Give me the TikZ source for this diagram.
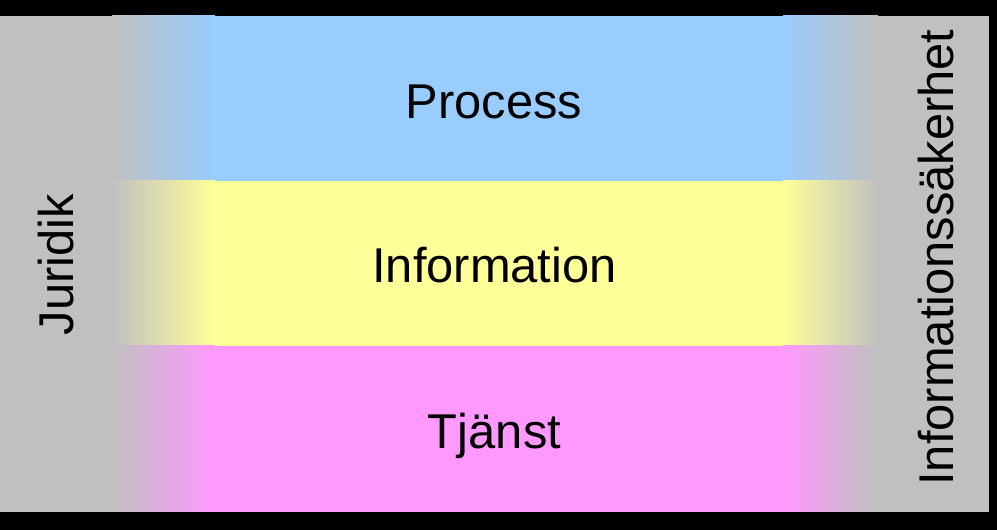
\documentclass[tikz,border=0pt]{standalone}
\usepackage{fontspec}
\setmainfont{Liberation Sans}
\usepackage{tikz}
\usepackage{xcolor}
\usetikzlibrary{positioning}

\definecolor{sidegray}{HTML}{C0C0C0}
\definecolor{procblue}{HTML}{99CCFF}
\definecolor{infoyellow}{HTML}{FFFF99}
\definecolor{tjanstpink}{HTML}{FF99FF}

\begin{document}
\begin{tikzpicture}[
          every node/.style={font=\fontsize{27.8}{33}\selectfont, inner sep=0pt},
          layer/.style={anchor=base},
          side/.style={anchor=base, rotate=90}
        ]

          % Frame
          \fill[black] (0,0) rectangle (19.94,10.6);
          \fill[sidegray] (0,0.36) rectangle (19.78,10.28);

          % Process band
          \fill[procblue] (4.3,6.98) rectangle (15.66,10.28);
          \shade[left color=sidegray, right color=procblue] (2.24,6.98) rectangle (4.3,10.28);
          \shade[left color=procblue, right color=sidegray] (15.66,6.98) rectangle (17.56,10.28);

          % Information band
          \fill[infoyellow] (4.3,3.68) rectangle (15.66,6.98);
          \shade[left color=sidegray, right color=infoyellow] (2.24,3.68) rectangle (4.3,6.98);
          \shade[left color=infoyellow, right color=sidegray] (15.66,3.68) rectangle (17.56,6.98);

          % Tjanst band
          \fill[tjanstpink] (4.3,0.36) rectangle (15.66,3.68);
          \shade[left color=sidegray, right color=tjanstpink] (2.24,0.36) rectangle (4.3,3.68);
          \shade[left color=tjanstpink, right color=sidegray] (15.66,0.36) rectangle (17.56,3.68);

          % Labels
          \node[layer] (process) at (9.88,8.22) {Process};
          \node[layer] (information) at (9.89,4.94) {Information};
          \node[layer] (tjanst) at (9.89,1.62) {Tjänst};

          \node[side] (juridik) at (1.46,5.31) {Juridik};
          \node[side] (infosak) at (19.06,5.45) {Informationssäkerhet};

        \end{tikzpicture}
\end{document}
